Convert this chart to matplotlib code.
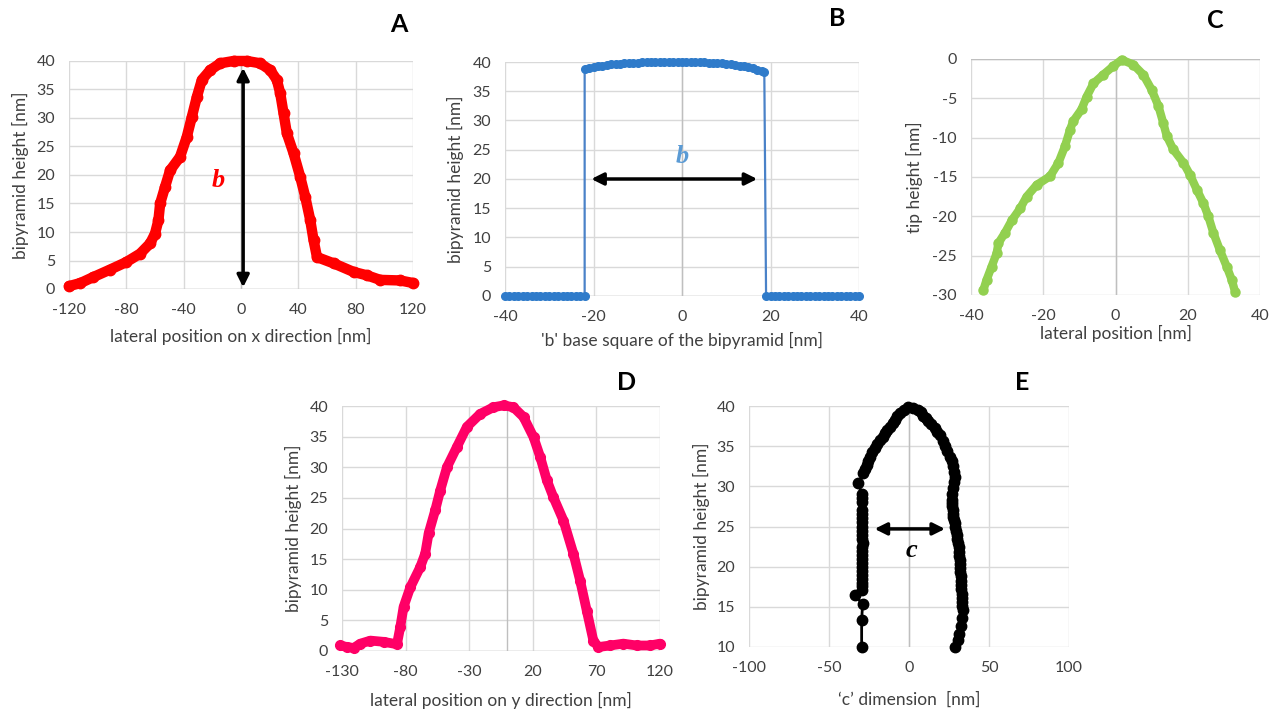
import matplotlib
matplotlib.use("Agg")
import matplotlib.pyplot as plt

plt.rcParams["font.family"] = ["Lato", "DejaVu Sans"]
plt.rcParams["axes.unicode_minus"] = False

# Panel A: lateral profile in x, red
a_x = [-120, -112, -103, -91.4, -80.2, -70.4, -63.4, -60, -57.6, -56.4, -53, -49.5,
       -42.5, -37.8, -34.3, -30.8, -27.3, -21.5, -14.5, -5.2, 4.1, 13.4, 20.4, 25,
       27.4, 29.7, 32, 36.7, 41.3, 44.8, 48.3, 50.6, 53, 64.6, 78.5, 87.8, 97.1, 111, 120]
a_y = [0.5, 1.05, 2.1, 3.4, 4.7, 6.2, 8.0, 9.7, 12.1, 15, 17.9, 20.8,
       23.2, 26.7, 30.2, 33.7, 36.7, 38.4, 39.6, 40, 40, 39.6, 38.4, 36.7,
       34.3, 30.8, 27.3, 23.8, 19.7, 16.2, 12.1, 8.6, 5.6, 4.5, 3.0, 2.4, 1.6, 1.5, 1.05]

# Panel B: idealised base square, blue
b_x = [-40, -39, -38, -37, -36, -35, -34, -33, -32, -31, -30, -29, -28, -27, -26,
       -25, -24, -23, -22, -22, -21, -20, -19, -18, -17, -16, -15, -14, -13, -12, -11,
       -10, -9, -8, -7, -6, -5, -4, -3, -2, -1, 0, 1, 2, 3, 4, 5, 6, 7, 8, 9, 10, 11,
       12, 13, 14, 15, 16, 17, 18, 18.6, 19, 20, 21, 22, 23, 24, 25, 26,
       27, 28, 29, 30, 31, 32, 33, 34, 35, 36, 37, 38, 39, 40]
b_y = [0, 0, 0, 0, 0, 0, 0, 0, 0, 0, 0, 0, 0, 0, 0,
       0, 0, 0, 0, 38.8, 39.0, 39.2, 39.3, 39.4, 39.5, 39.6, 39.7, 39.7, 39.8, 39.8, 39.9,
       39.9, 40, 40, 40, 40, 40, 40, 40, 40, 40, 40, 40, 40, 40, 40, 40, 39.9, 39.9, 39.8, 39.8, 39.7, 39.6,
       39.5, 39.4, 39.3, 39.1, 38.9, 38.7, 38.5, 38.3, 0, 0, 0, 0, 0, 0, 0, 0,
       0, 0, 0, 0, 0, 0, 0, 0, 0, 0, 0, 0, 0, 0]

# Panel C: tip profile, green
c_x = [-36.6, -35.7, -34.3, -32.9, -32.4, -30.6, -28.7, -26.4, -24.6, -21.8, -18.1,
       -15.8, -14, -12.6, -11.7, -9.4, -8, -6.1, -3.4, -0.6, 1.7, 4.9, 7.7, 10,
       11.9, 13.2, 14.2, 16, 18.8, 20.6, 22.5, 24.3, 25.7, 27.1, 28.9, 30.8, 32.2, 33.1]
c_y = [-29.4, -28.1, -26.4, -24.7, -23.4, -22.1, -20.5, -19, -17.5, -16, -14.9,
       -13.2, -11.1, -9, -7.9, -6.4, -4.8, -3.1, -2.0, -0.9, -0.1, -0.7, -2.0, -3.9,
       -6.0, -8.1, -9.8, -11.5, -13.2, -14.7, -16.6, -18.3, -20, -22.1, -24.3, -26.4, -28.1, -29.6]

# Panel D: lateral profile in y, pink
d_x = [-131.3, -126, -120.8, -115.6, -107.7, -97.3, -86.8, -84.2, -81.6, -76.3, -68.5,
       -64.6, -61.9, -56.7, -52.8, -47.5, -39.7, -31.8, -21.4, -10.9, -3, 4.8, 12.7,
       20.6, 25.8, 31, 36.2, 44.1, 51.9, 57.2, 62.4, 67.6, 71.6, 80.7, 91.2, 101.7, 112.1, 120]
d_y = [0.9, 0.65, 0.5, 1.2, 1.7, 1.5, 1.1, 3.9, 7.2, 10.4, 13.7,
       15.9, 19.2, 23, 26.2, 30, 33.3, 36.6, 38.7, 39.8, 40.1, 39.8, 38.2,
       34.9, 31.7, 27.9, 25.1, 21.3, 15.9, 11.5, 6.6, 1.7, 0.65, 0.9, 1.2, 0.9, 0.9, 1.2]

# Panel E: 'c' dimension, black
e_x = [-29.6, -29.6, -29.0, -33.8, -29.6, -29.5, -29.4, -29.4, -29.4, -29.5, -29.5,
       -29.4, -29.3, -29.3, -29.2, -29.1, -29.0, -29.1, -29.2, -29.3, -29.4, -29.5,
       -29.5, -29.4, -29.4, -29.5, -29.5, -29.6, -31.7, -28.5, -27.5, -26.5, -25.5,
       -24.4, -23.0, -21.5, -19.8, -18.1, -16.5, -15.0, -13.5, -11.9, -10.3, -8.8,
       -7.2, -5.6, -3.0, -0.4, 2.7, 5.8, 7.4, 9.0, 10.6, 12.1, 14.0, 16.0, 17.7, 19.4,
       21.0, 22.5, 24.0, 25.6, 26.6, 27.5, 28.2, 28.8, 28.1, 27.5, 27.1, 26.7, 26.9,
       27.1, 27.3, 27.5, 27.8, 28.2, 28.5, 28.8, 29.3, 29.8, 30.3, 30.8, 31.0, 31.2,
       31.4, 31.6, 31.7, 31.9, 32.1, 32.3, 32.5, 32.6, 32.7, 32.9, 33.0, 33.2, 33.4,
       33.5, 32.9, 32.2, 31.5, 30.8, 28.8]
e_y = [10, 13.4, 15.3, 16.5, 17.1, 17.6, 18.0, 18.5, 19.0, 19.5, 20.0,
       20.5, 20.9, 21.5, 22.0, 22.5, 23.0, 23.5, 24.0, 24.5, 25.0, 25.5,
       26.0, 26.5, 27.0, 28.0, 28.5, 29.1, 30.4, 31.6, 32.1, 32.6, 33.2,
       33.7, 34.3, 34.8, 35.3, 35.8, 36.2, 36.6, 37.0, 37.4, 37.9, 38.3,
       38.7, 39.1, 39.5, 39.9, 39.7, 39.5, 39.2, 38.8, 38.5, 38.1, 37.7, 37.3, 36.8, 36.4,
       35.7, 35.0, 34.4, 33.7, 33.1, 32.5, 31.8, 31.2, 30.5, 29.8, 29.0, 28.3, 27.9,
       27.5, 27.0, 26.6, 26.2, 25.8, 25.4, 25.0, 24.5, 24.0, 23.5, 22.9, 22.4, 21.8,
       21.3, 20.8, 20.3, 19.8, 19.3, 18.8, 18.2, 17.7, 17.2, 16.6, 16.1, 15.6, 15.1,
       14.6, 13.6, 12.6, 11.6, 10.9, 10]

W, H = 1279, 711
GRID = "#d9d9d9"
AXIS = "#bfbfbf"
TICK = "#404040"


def make_axes(fig, x0, y0, x1, y1):
    # pixel box (left, top, right, bottom) -> figure fractions
    return fig.add_axes([x0 / W, 1 - y1 / H, (x1 - x0) / W, (y1 - y0) / H])


def style(ax, xlim, xticks, ylim, yticks, xlabel, ylabel, xl_pos, yl_pos, zero_axis=None):
    ax.set_xlim(*xlim)
    ax.set_ylim(*ylim)
    ax.set_xticks(xticks)
    ax.set_yticks(yticks)
    ax.grid(True, color=GRID, linewidth=1.0)
    ax.set_axisbelow(True)
    for s in ax.spines.values():
        s.set_visible(False)
    ax.tick_params(length=0, labelsize=11.5, labelcolor=TICK, pad=10)
    ax.set_xlabel(xlabel, fontsize=12.5, color=TICK, va="center", ha="center")
    ax.set_ylabel(ylabel, fontsize=12.5, color=TICK, va="center", ha="center")
    ax.xaxis.set_label_coords(0.5, xl_pos)
    ax.yaxis.set_label_coords(yl_pos, 0.5)
    if zero_axis is not None:
        ax.axhline(zero_axis, color=AXIS, linewidth=1.0, zorder=1)
    ax.axvline(0, color=AXIS, linewidth=1.0, zorder=1)


def dbl_arrow(ax, p0, p1):
    ax.annotate("", xy=p1, xytext=p0,
                arrowprops=dict(arrowstyle="<|-|>", color="black", lw=2.5,
                                mutation_scale=18, shrinkA=0, shrinkB=0))


fig = plt.figure(figsize=(W / 100, H / 100), dpi=100)

# A
ax = make_axes(fig, 69, 61, 413, 289)
style(ax, (-120, 120), range(-120, 121, 40), (0, 40), range(0, 41, 5),
      "lateral position on x direction [nm]", "bipyramid height [nm]", -0.21, -0.142, 0)
ax.plot(a_x, a_y, color="#ff0000", lw=7.5, marker="o", ms=7.5, clip_on=False, zorder=3,
        solid_capstyle="round", solid_joinstyle="round")
dbl_arrow(ax, (1.5, 0.3), (1.5, 38.8))
ax.text(-16, 19, "b", color="#ff0000", fontsize=19, fontstyle="italic", fontweight="bold",
        family="Liberation Serif", ha="center", va="center")

# B
ax = make_axes(fig, 505, 62, 859, 296)
style(ax, (-40, 40), range(-40, 41, 20), (0, 40), range(0, 41, 5),
      "'b' base square of the bipyramid [nm]", "bipyramid height [nm]", -0.192, -0.141, 0)
ax.plot(b_x, b_y, color="#4a82c8", lw=1.6, marker="o", ms=5.5, mfc="#2f7bca",
        mec="#2f7bca", clip_on=False, zorder=3)
dbl_arrow(ax, (-20.5, 20), (17, 20))
ax.text(0, 23.8, "b", color="#5b9bd5", fontsize=19, fontstyle="italic", fontweight="bold",
        family="Liberation Serif", ha="center", va="center")

# C
ax = make_axes(fig, 971, 59, 1260, 295)
style(ax, (-40, 40), range(-40, 41, 20), (-30, 0), range(-30, 1, 5),
      "lateral position [nm]", "tip height [nm]", -0.165, -0.194, 0)
ax.plot(c_x, c_y, color="#92d050", lw=6, marker="o", ms=6.5, clip_on=False, zorder=3,
        solid_capstyle="round", solid_joinstyle="round")

# D
ax = make_axes(fig, 342, 406, 660, 651)
style(ax, (-130, 120), range(-130, 121, 50), (0, 40), range(0, 41, 5),
      "lateral position on y direction [nm]", "bipyramid height [nm]", -0.2, -0.154, 0)
ax.plot(d_x, d_y, color="#ff0066", lw=7, marker="o", ms=7, clip_on=False, zorder=3,
        solid_capstyle="round", solid_joinstyle="round")

# E
ax = make_axes(fig, 749, 406, 1069, 647)
style(ax, (-100, 100), range(-100, 101, 50), (10, 40), range(10, 41, 5),
      "\u2018c\u2019 dimension  [nm]", "bipyramid height [nm]", -0.22, -0.147)
ax.plot(e_x, e_y, color="black", lw=2, marker="o", ms=7.5, clip_on=False, zorder=3)
dbl_arrow(ax, (-21.5, 24.7), (22.5, 24.7))
ax.text(1.5, 22, "c", color="black", fontsize=19, fontstyle="italic", fontweight="bold",
        family="Liberation Serif", ha="center", va="center")

# panel letters
for lab, (px, py) in {"A": (399, 24), "B": (837, 19), "C": (1215, 20),
                      "D": (627, 383), "E": (1022, 383)}.items():
    fig.text(px / W, 1 - py / H, lab, fontsize=18, fontweight="bold",
             ha="center", va="center")

fig.savefig("out.png", dpi=100)
